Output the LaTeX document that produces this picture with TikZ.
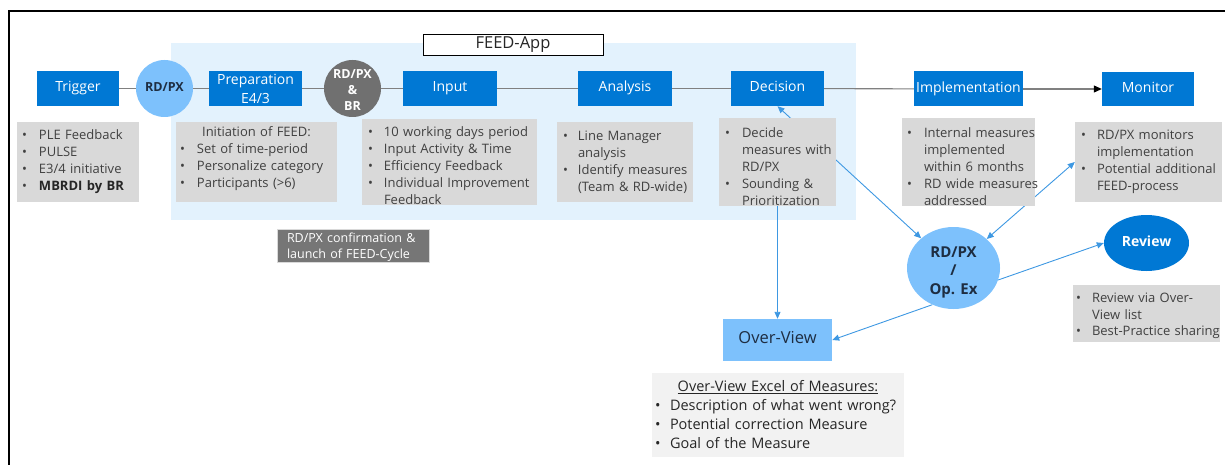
\documentclass[tikz,border=0pt]{standalone}
\usepackage{fontspec}
\setmainfont{Open Sans}
\usetikzlibrary{arrows.meta,shapes.geometric}

\definecolor{mblue}{RGB}{0,120,212}
\definecolor{lblue}{RGB}{125,193,252}
\definecolor{feedbg}{RGB}{227,242,253}
\definecolor{lgray}{RGB}{217,217,217}
\definecolor{dgray}{RGB}{118,118,118}
\definecolor{cgray}{RGB}{112,112,112}
\definecolor{exbg}{RGB}{242,242,242}
\definecolor{linkblue}{RGB}{62,152,226}
\definecolor{flowgray}{RGB}{128,128,128}
\definecolor{txt}{RGB}{64,64,64}
\definecolor{navy}{RGB}{30,45,65}

% bullet line and continuation line of a list
\newcommand\bl[2][17pt]{\mbox{\makebox[#1][l]{\textbullet}#2}}
\newcommand\ind[2][17pt]{\mbox{\hspace*{#1}#2}}
% extra room above the first line / below the last line of a list
\newcommand\padtop[1]{\rule{0pt}{#1}}
\newcommand\padbot[1]{\rule[-#1]{0pt}{#1}}

\pgfdeclarelayer{back}
\pgfdeclarelayer{links}
\pgfsetlayers{back,links,main}

\begin{document}
\begin{tikzpicture}[x=1pt,y=-1pt,
  stage/.style={rectangle, fill=mblue, text=white, inner sep=0pt,
    minimum height=35pt, align=center,
    font=\fontsize{14}{18}\selectfont},
  oneline/.style={text height=10pt, text depth=3pt},
  rolecircle/.style={circle, inner sep=0pt, minimum size=57pt, align=center,
    font=\bfseries\fontsize{12.5}{16}\selectfont},
  glist/.style={rectangle, fill=lgray, text=txt, inner ysep=0pt,
    minimum height=80pt, align=left,
    font=\fontsize{13}{17}\selectfont},
  flow/.style={draw=flowgray, line width=1.1pt},
  link/.style={draw=linkblue, line width=0.9pt},
  tip/.style={-{Triangle[length=7pt,width=6pt]}},
  tips/.style={{Triangle[length=7pt,width=6pt]}-{Triangle[length=7pt,width=6pt]}}
]
\useasboundingbox (0,0) rectangle (1225,465);

% outer frame
\draw[line width=1.5pt] (9,470) -- (9,11) -- (1230,11);

% FEED-App area
\begin{pgfonlayer}{back}
  \fill[feedbg] (171,43) rectangle (856,220);
\end{pgfonlayer}
\node[draw=black, fill=white, line width=1pt, minimum width=180pt,
  minimum height=21pt, inner sep=0pt, text=black!85, oneline,
  font=\fontsize{16.5}{18}\selectfont] (feedapp) at (513,45.5) {FEED-App};

% process stages
\node[stage, oneline, minimum width=82pt] (trigger) at (78,88.5) {Trigger};
\node[rolecircle, fill=lblue, text=navy, oneline] (rdpx) at (164.5,88.5) {RD/PX};
\node[stage, minimum width=93pt] (prep) at (255.5,88.5)
  {Preparation\\[1pt]E4/3};
\node[rolecircle, fill=cgray] (rdpxbr) at (352.5,88.5) {};
\node[text=white, align=center, inner sep=0pt,
  font=\bfseries\fontsize{12.5}{16}\selectfont] (rdpxbrtext) at (352.5,90.5)
  {RD/PX\\\&\\BR};
\node[stage, oneline, minimum width=94pt] (input) at (450,88.5) {Input};
\node[stage, oneline, minimum width=94pt] (analysis) at (625,88.5) {Analysis};
\node[stage, oneline, minimum width=93pt] (decision) at (777.5,88.5) {Decision};
\node[stage, oneline, minimum width=109pt] (impl) at (968.5,89) {Implementation};
\node[stage, oneline, minimum width=92pt, minimum height=34pt] (monitor) at (1148,89) {Monitor};

% stage details
\node[glist, inner xsep=5pt, text width=112pt] (triglist) at (78,162)
  {\bl{PLE Feedback}\\\bl{PULSE}\\\bl{E3/4 initiative}\\
   \bl{\textcolor{black!85}{\bfseries MBRDI by BR}}};
\node[glist, inner xsep=4pt, text width=153pt] (preplist) at (256.5,162)
  {\makebox[153pt][c]{Initiation of FEED:}\\
   \bl{Set of time-period}\\\bl{Personalize category}\\
   \bl{Participants (>6)}\padbot{9pt}};
\node[glist, inner xsep=6pt, text width=163pt] (inputlist) at (449.5,162)
  {\padtop{17pt}\bl[16pt]{10 working days period}\\\bl[16pt]{Input Activity \& Time}\\
   \bl[16pt]{Efficiency Feedback}\\\bl[16pt]{Individual Improvement}\\
   \ind[16pt]{Feedback}};
\node[glist, inner xsep=6pt, text width=124pt] (analist) at (625,162)
  {\bl[15pt]{Line Manager}\\\ind[15pt]{analysis}\\
   \bl[15pt]{Identify measures}\\\ind[15pt]{(Team \& RD-wide)}};
\node[glist, inner xsep=6pt, text width=105pt] (declist) at (777.5,162)
  {\padtop{19pt}\bl{Decide}\\\ind{measures with}\\\ind{RD/PX}\\
   \bl{Sounding \&}\\\ind{Prioritization}};
\node[glist, inner xsep=5pt, text width=123pt] (impllist) at (968.5,162)
  {\padtop{19pt}\bl{Internal measures}\\\ind{implemented}\\\ind{within 6 months}\\
   \bl{RD wide measures}\\\ind{addressed}};
\node[glist, inner xsep=6pt, text width=135pt] (monlist) at (1148.5,162)
  {\bl[16pt]{RD/PX monitors}\\\ind[16pt]{implementation}\\
   \bl[16pt]{Potential additional}\\\ind[16pt]{FEED-process}};

% confirmation note
\node[rectangle, fill=dgray, draw=lgray, line width=0.6pt, text=white,
  minimum width=152pt, minimum height=33pt, inner xsep=10pt, inner ysep=0pt,
  text width=132pt, align=left, font=\fontsize{12.5}{16}\selectfont]
  (confirm) at (353,245.5) {\padtop{14pt}RD/PX confirmation \&\\launch of FEED-Cycle};

% follow-up roles
\node[ellipse, fill=lblue, inner sep=0pt, minimum width=93pt,
  minimum height=82pt] (opex) at (953.5,268) {};
\node[text=navy, inner sep=0pt, align=center,
  font=\bfseries\fontsize{15}{18.5}\selectfont]
  (opextext) at (953.5,272) {RD/PX\\/\\Op. Ex};
\node[ellipse, fill=mblue, text=white, inner sep=0pt, minimum width=85pt,
  minimum height=56pt, oneline, font=\bfseries\fontsize{14}{17}\selectfont]
  (review) at (1146.5,243) {Review};
\node[glist, inner xsep=3pt, text width=141pt, minimum height=57pt,
  font=\fontsize{13}{16.5}\selectfont] (revlist) at (1146.5,313.5)
  {\padtop{15pt}\bl[16pt]{Review via Over-}\\\ind[16pt]{View list}\\
   \bl[16pt]{Best-Practice sharing}};

% overview of measures
\node[rectangle, fill=lblue, text=navy, inner sep=0pt, minimum width=109pt,
  minimum height=42pt, oneline, font=\fontsize{16.5}{19}\selectfont]
  (overview) at (777.5,340) {Over-View};
\node[rectangle, fill=exbg, text=black!85, inner xsep=3pt, inner ysep=0pt,
  text width=246pt, minimum height=84pt, align=left,
  font=\fontsize{14.5}{19}\selectfont] (excel) at (778,415)
  {\makebox[246pt][c]{\underline{Over-View Excel of Measures:}}\\
   \bl[15pt]{Description of what went wrong?}\\
   \bl[15pt]{Potential correction Measure}\\
   \bl[15pt]{Goal of the Measure}};

% main process line
\draw[flow] (trigger) -- (rdpx);
\draw[flow] (rdpx) -- (prep);
\draw[flow] (prep) -- (rdpxbr);
\draw[flow] (rdpxbr) -- (input);
\draw[flow] (input) -- (analysis);
\draw[flow] (analysis) -- (decision);
\draw[flow] (decision) -- (impl);
\draw[flow, -{Triangle[length=8pt,width=7pt,color=black]}] (impl) -- (monitor);

% feedback links
\begin{pgfonlayer}{links}
  \draw[link, tips] (decision.south) -- (opex);
  \draw[link, tips] (monlist.west) -- (opex);
  \draw[link, tip] (declist.south) -- (overview.north);
  \draw[link, tip] (opex.-15) -- (review.west);
  \draw[link, tip] (opex.240) -- (overview.east);
\end{pgfonlayer}
\end{tikzpicture}
\end{document}
